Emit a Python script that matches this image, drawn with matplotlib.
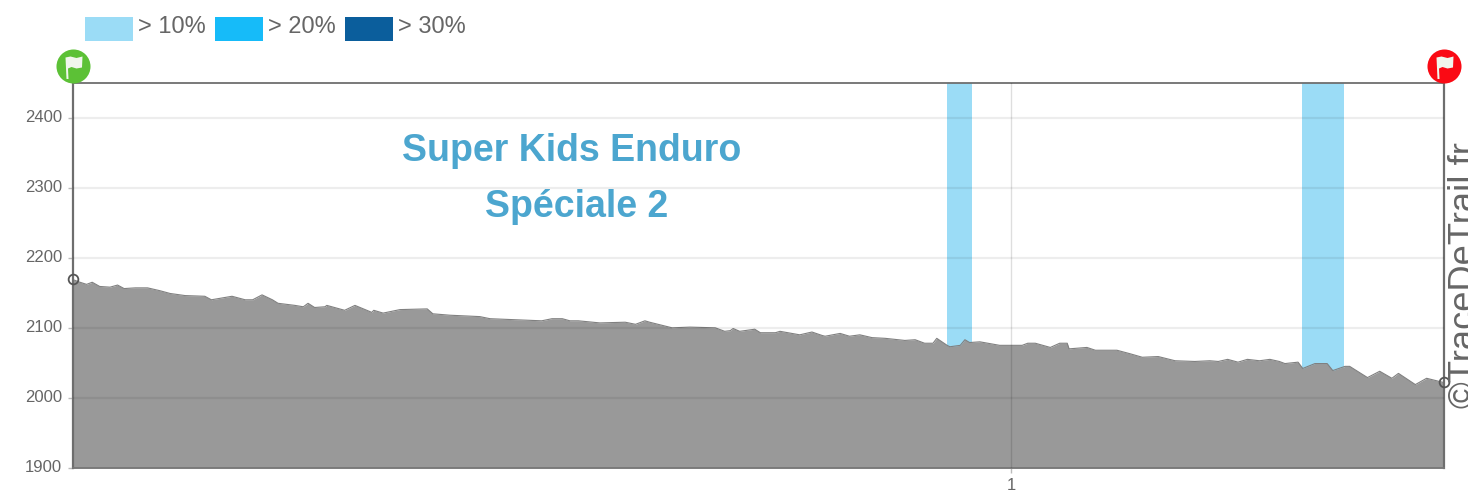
import matplotlib
matplotlib.use("Agg")
import matplotlib.pyplot as plt
from matplotlib.patches import Rectangle
from matplotlib.path import Path
from matplotlib.transforms import ScaledTranslation

plt.rcParams['font.family'] = ['Liberation Sans', 'DejaVu Sans']

# distance (km) and altitude (m)
dist = [0, .008, .015, .021, .029, .040, .048, .055, .067, .080, .093, .104, .120, .141, .148, .170,
        .184, .192, .202, .213, .219, .237, .246, .251, .258, .269, .271, .290, .301, .319, .321, .331,
        .349, .378, .384, .402, .434, .445, .500, .511, .522, .530, .539, .562, .589, .600, .610, .615,
        .639, .658, .685, .695, .701, .704, .711, .727, .733, .749, .754, .775, .788, .799, .802, .818,
        .828, .839, .852, .866, .887, .898, .908, .917, .921, .932, .935, .946, .951, .956, .967, .988,
        1.012, 1.018, 1.026, 1.042, 1.052, 1.060, 1.062, 1.081, 1.090, 1.113, 1.127, 1.140, 1.157, 1.175,
        1.196, 1.212, 1.221, 1.231, 1.242, 1.252, 1.265, 1.276, 1.286, 1.292, 1.306, 1.311, 1.324, 1.337,
        1.343, 1.356, 1.361, 1.380, 1.393, 1.406, 1.413, 1.431, 1.443, 1.461]
alt = [2169, 2165, 2162, 2165, 2159, 2158, 2161, 2156, 2157, 2157, 2153, 2149, 2146, 2145, 2140, 2145,
       2140, 2140, 2147, 2140, 2135, 2132, 2130, 2135, 2129, 2130, 2132, 2125, 2132, 2122, 2125, 2121,
       2126, 2127, 2120, 2118, 2116, 2113, 2110, 2113, 2113, 2110, 2110, 2107, 2108, 2105, 2110, 2108,
       2100, 2101, 2100, 2095, 2096, 2099, 2095, 2098, 2093, 2093, 2095, 2090, 2094, 2089, 2088, 2092,
       2088, 2090, 2086, 2085, 2082, 2083, 2078, 2078, 2085, 2075, 2073, 2075, 2083, 2079, 2080, 2075,
       2075, 2078, 2078, 2072, 2078, 2078, 2070, 2072, 2068, 2068, 2063, 2058, 2059, 2053,
       2052, 2053, 2052, 2055, 2051, 2055, 2053, 2055, 2052, 2049, 2051, 2042, 2049, 2049,
       2039, 2045, 2045, 2029, 2038, 2028, 2035, 2019, 2028, 2022]

# stretches steeper than 10 %
steep_start = [.932, 1.310]
steep_end = [.959, 1.355]

yticks = [1900, 2000, 2100, 2200, 2300, 2400]
xticks = [1]
legend_labels = ['> 10%', '> 20%', '> 30%']
legend_colors = ['#9bdcf6', '#16bbf9', '#0b5e9c']
title_lines = ['Super Kids Enduro', 'Spéciale 2']

W, H = 1468, 491
TEXT = '#666666'
FRAME = '#6e6e6e'

fig = plt.figure(figsize=(W / 100, H / 100), dpi=100)
ax = fig.add_axes([72.5 / W, (H - 468) / H, 1371 / W, 385.5 / H])
ax.set_xlim(0, dist[-1])
ax.set_ylim(1900, 2450)

for a, b in zip(steep_start, steep_end):
    ax.axvspan(a, b, color=legend_colors[0], lw=0, zorder=1)

ax.fill_between(dist, alt, 1900, color='#999999', lw=0, zorder=2)
ax.plot(dist, alt, color='#808080', lw=0.8, zorder=2.5)

# grid goes over everything, it shows through the area in the original
for y in yticks[1:]:
    ax.axhline(y, color='black', alpha=0.07, lw=1.6, zorder=3)
ax.axvline(xticks[0], color='black', alpha=0.13, lw=1, zorder=3)

ax.set_yticks(yticks)
ax.set_xticks(xticks)
ax.tick_params(axis='y', labelsize=12, labelcolor=TEXT, color='#bbbbbb', length=3.5, width=1, pad=4)
ax.tick_params(axis='x', labelsize=12, labelcolor=TEXT, color='#bbbbbb', length=3.5, width=1, pad=4)
for t in ax.get_yticklabels():
    t.set_verticalalignment('center')

for side in ax.spines:
    ax.spines[side].set_color(FRAME)
ax.spines['left'].set_linewidth(1.6)
ax.spines['right'].set_linewidth(1.6)
ax.spines['top'].set_linewidth(1.3)
ax.spines['bottom'].set_linewidth(1.3)
ax.spines['bottom'].set_color('#777777')

# open circles on both ends of the profile
ax.plot([dist[0], dist[-1]], [alt[0], alt[-1]], 'o', ms=7, mfc='none', mec='#555555', mew=1.3,
        clip_on=False, zorder=5)

# start and finish flags
flag = Path([(-8, 9), (-3, 10), (3, 8.5), (9, 10), (8.5, -1), (3, -2), (-2, -0.5), (-5.5, -2),
             (-5, -12.5), (-7, -12.5), (-8, 9)])
shift = ScaledTranslation(0, 16.5 / 100, fig.dpi_scale_trans)
trans = ax.get_xaxis_transform() + shift
for x, col in [(dist[0], '#5cc136'), (dist[-1], '#fa0a14')]:
    ax.plot([x], [1], 'o', ms=24.5, mfc=col, mec=col, mew=0, transform=trans, clip_on=False, zorder=6)
    ax.plot([x], [1], marker=flag, ms=18, mfc='#f0f6ec', mec='none', transform=trans, clip_on=False, zorder=7)

title_y = [151, 207]
title_x = [571.5, 576.5]
for s, px, py in zip(title_lines, title_x, title_y):
    fig.text(px / W, 1 - py / H, s, color='#4ca6cf', fontsize=27, fontweight='bold', ha='center', va='center')

# legend, swatch sits a little lower than its label
swatch_x = [85, 215, 345]
for px, s, c in zip(swatch_x, legend_labels, legend_colors):
    fig.add_artist(Rectangle((px / W, 1 - 41 / H), 48 / W, 24 / H, color=c, lw=0, transform=fig.transFigure))
    fig.text((px + 53) / W, 1 - 27 / H, s, color=TEXT, fontsize=17, ha='left', va='center')

fig.text(1447.5 / W, 1 - 408 / H, '©TraceDeTrail.fr', rotation=90, color=TEXT, fontsize=26.2, ha='left', va='bottom')

plt.savefig('out.png', dpi=100)
